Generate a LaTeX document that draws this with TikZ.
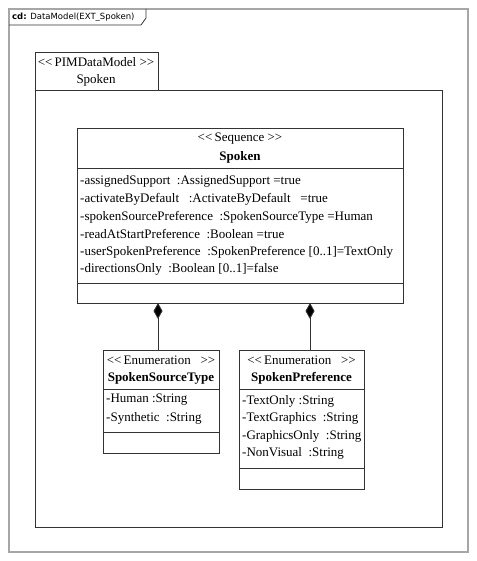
\documentclass[tikz,border=0pt]{standalone}
\usepackage{fontspec}
\setmainfont{Liberation Serif}
\newfontfamily\labelfont{DejaVu Sans}
\usetikzlibrary{arrows.meta}
\begin{document}
\begin{tikzpicture}[x=1pt,y=-1pt,
 box/.style={draw=black!80, line width=0.8pt, anchor=north west, inner sep=0pt, outer sep=0pt},
 txt/.style={anchor=west, inner sep=0pt, font=\fontsize{13}{14}\selectfont},
 ctr/.style={anchor=center, inner sep=0pt, font=\fontsize{13}{14}\selectfont},
 comp/.style={draw=black!80, line width=0.8pt, {Diamond[length=16pt,width=9pt,fill=black]}-}]
\useasboundingbox (0,0) rectangle (476,561);
\fill[white] (0,0) rectangle (476,561);
% outer frame
\node[box, draw=black!35, line width=1.5pt, minimum width=459pt, minimum height=543pt] (frame) at (9,9) {};
\draw[black!80, line width=0.8pt] (9,25) -- (141,25) -- (146,18) -- (146,9);
\node[anchor=west, inner sep=0pt, font=\labelfont\fontsize{8.5}{10}\selectfont] (lbl) at (12,17) {\textbf{cd:} DataModel(EXT\_Spoken)};
% package
\node[box, minimum width=123pt, minimum height=38pt] (ptab) at (35,52) {};
\node[box, minimum width=407pt, minimum height=437pt] (pbody) at (35,90) {};
\node[ctr] (pst) at (96,62) {{<}{<}\,PIMDataModel {>}{>}};
\node[ctr] (pnm) at (96,80) {Spoken};
% Spoken class
\node[box, minimum width=326pt, minimum height=40pt] (sh) at (77,128) {};
\node[box, minimum width=326pt, minimum height=115pt] (sa) at (77,168) {};
\node[box, minimum width=326pt, minimum height=20pt] (so) at (77,283) {};
\node[ctr] (sst) at (240,139) {{<}{<}\,Sequence {>}{>}};
\node[ctr] (snm) at (240,157) {\bfseries Spoken};
\node[txt] (s1) at (80,181) {-assignedSupport \ :AssignedSupport =true};
\node[txt] (s2) at (80,199) {-activateByDefault \ \ :ActivateByDefault \ \ =true};
\node[txt] (s3) at (80,217) {-spokenSourcePreference \ :SpokenSourceType =Human};
\node[txt] (s4) at (80,234) {-readAtStartPreference \ :Boolean =true};
\node[txt] (s5) at (80,252) {-userSpokenPreference \ :SpokenPreference [0..1]=TextOnly};
\node[txt] (s6) at (80,269) {-directionsOnly \ :Boolean [0..1]=false};
% SpokenSourceType
\node[box, minimum width=116pt, minimum height=39pt] (ah) at (103,350) {};
\node[box, minimum width=116pt, minimum height=43pt] (aa) at (103,389) {};
\node[box, minimum width=116pt, minimum height=21pt] (ao) at (103,432) {};
\node[ctr] (ast) at (161,360) {{<}{<}\,Enumeration \ \ {>}{>}};
\node[ctr] (anm) at (161,378) {\bfseries SpokenSourceType};
\node[txt] (a1) at (106,400) {-Human :String};
\node[txt] (a2) at (106,418) {-Synthetic \ :String};
% SpokenPreference
\node[box, minimum width=125pt, minimum height=39pt] (bh) at (239,350) {};
\node[box, minimum width=125pt, minimum height=79pt] (ba) at (239,389) {};
\node[box, minimum width=125pt, minimum height=21pt] (bo) at (239,468) {};
\node[ctr] (bst) at (301.5,360) {{<}{<}\,Enumeration \ \ {>}{>}};
\node[ctr] (bnm) at (301.5,378) {\bfseries SpokenPreference};
\node[txt] (b1) at (242,401) {-TextOnly :String};
\node[txt] (b2) at (242,418) {-TextGraphics \ :String};
\node[txt] (b3) at (242,436) {-GraphicsOnly \ :String};
\node[txt] (b4) at (242,453) {-NonVisual \ :String};
% compositions
\coordinate (ca) at (158,350);
\coordinate (cb) at (310,350);
\draw[comp] (so.south -| ca) -- (ca);
\draw[comp] (so.south -| cb) -- (cb);
\end{tikzpicture}
\end{document}
